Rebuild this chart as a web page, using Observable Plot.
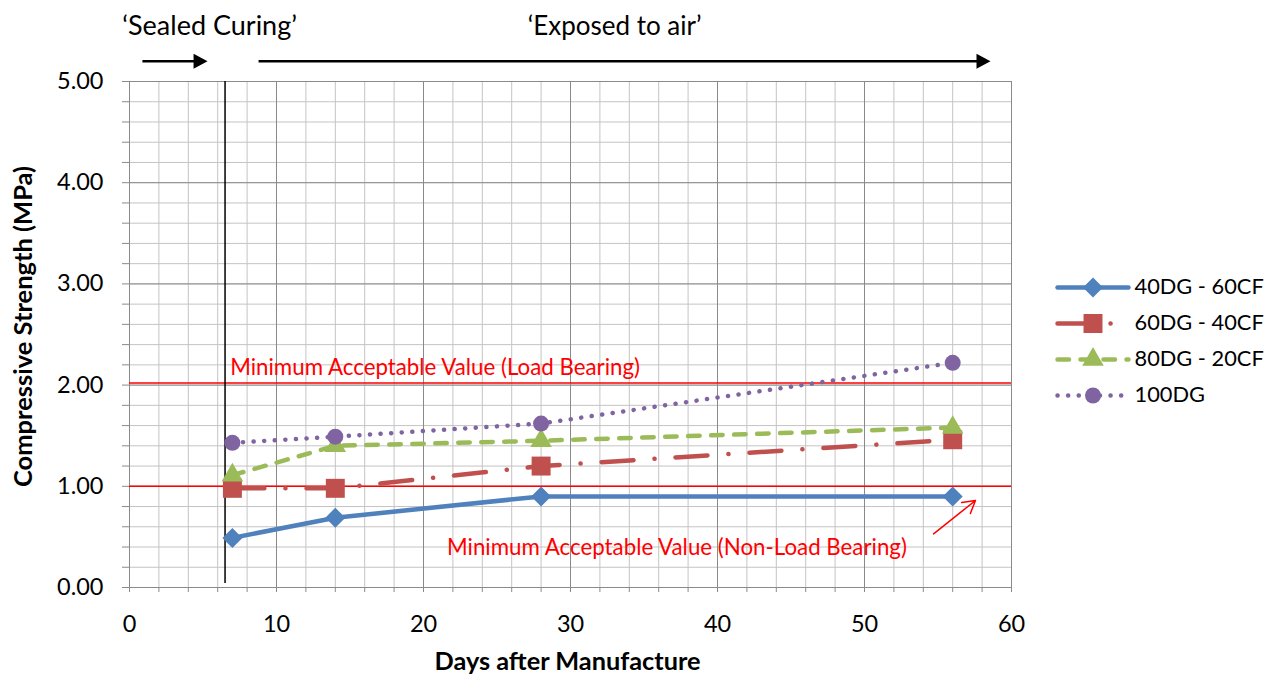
<!DOCTYPE html>
<html><head><meta charset="utf-8">
<script src="https://cdn.jsdelivr.net/npm/d3@7"></script>
<script src="https://cdn.jsdelivr.net/npm/@observablehq/plot@0.6"></script>
<style>
body{margin:0;background:#fff;}
#wrap{position:relative;width:1285px;height:677px;overflow:hidden;}
#chart{position:absolute;left:0;top:0;}
#legend{position:absolute;left:1050px;top:240px;}
</style></head><body><div id="wrap"><div id="chart"></div><div id="legend"></div></div>
<script>
// ---- data ----
const days = [7, 14, 28, 56];
const s40 = [0.49, 0.69, 0.90, 0.90];
const s60 = [0.98, 0.98, 1.20, 1.46];
const s80 = [1.11, 1.40, 1.45, 1.58];
const s100 = [1.43, 1.49, 1.62, 2.22];
const seriesNames = ["40DG - 60CF", "60DG - 40CF", "80DG - 20CF", "100DG"];
const seriesValues = [s40, s60, s80, s100];
const colors = ["#4f81bd", "#c0504d", "#9bbb59", "#8064a2"];
const symbols = ["diamond2", "square", "triangle", "circle"];
const symbolR = [9, 10.7, 8, 8];
const dashes = [null, "32 21 0.1 21", "11.5 11.5", "0.1 10.5"];
const thresholds = [1.0, 2.02];
const thresholdLabels = ["Minimum Acceptable Value (Non-Load Bearing)", "Minimum Acceptable Value (Load Bearing)"];
const xMajor = [0, 10, 20, 30, 40, 50, 60];
const xMinor = d3.range(0, 31).map(i => i * 2);
const yMajor = [0, 1, 2, 3, 4, 5];
const yMinor = d3.range(0, 26).map(i => i / 5);
const phaseLabels = ["\u2018Sealed Curing\u2019", "\u2018Exposed to air\u2019"];

const rows = [];
seriesNames.forEach((s, i) => days.forEach((d, j) => rows.push({series: s, day: d, value: seriesValues[i][j]})));

const FONT = "Lato, 'Open Sans', sans-serif";
const arrowHead = {draw(ctx) { ctx.moveTo(0, 0); ctx.lineTo(-14, -7.5); ctx.lineTo(-14, 7.5); ctx.closePath(); }};

const marks = [
  Plot.gridX(xMinor, {stroke: "#c4c4c4", strokeOpacity: 1}),
  Plot.gridY(yMinor, {stroke: "#c4c4c4", strokeOpacity: 1}),
  Plot.gridX(xMajor, {stroke: "#8a8a8a", strokeOpacity: 1}),
  Plot.gridY(yMajor, {stroke: "#8a8a8a", strokeOpacity: 1}),
  Plot.ruleX([0], {stroke: "#8a8a8a"}),
  Plot.ruleY([0], {stroke: "#8a8a8a"}),
  Plot.axisY(yMinor, {tickSize: 7, stroke: "#8a8a8a", text: null, label: null}),
  Plot.axisY(yMajor, {tickSize: 0, tickPadding: 26, tickFormat: d => d.toFixed(2), label: null, fill: "#000", fontSize: 23.5}),
  Plot.axisX(xMinor, {tickSize: 5, stroke: "#8a8a8a", text: null, label: null}),
  Plot.axisX(xMajor, {tickSize: 0, tickPadding: 28, label: null, fill: "#000", fontSize: 23.5}),
  Plot.ruleY(thresholds, {stroke: "#ff0000", strokeWidth: 1.5}),
  Plot.ruleX([6.5], {y1: 0.04, y2: 5, stroke: "#000", strokeWidth: 1.5}),
];
seriesNames.forEach((s, i) => {
  const data = rows.filter(r => r.series === s);
  marks.push(Plot.line(data, {x: "day", y: "value", stroke: colors[i], strokeWidth: 4.5,
    strokeDasharray: dashes[i], strokeLinecap: "round", strokeLinejoin: "round"}));
  marks.push(Plot.dot(data, {x: "day", y: "value", symbol: () => symbols[i], r: symbolR[i], fill: colors[i], stroke: "none"}));
});
marks.push(
  Plot.text([thresholdLabels[1]], {x: 6.85, y: 2.17, textAnchor: "start", fill: "#ff0000", fontSize: 22.3}),
  Plot.text([thresholdLabels[0]], {x: 21.6, y: 0.395, textAnchor: "start", fill: "#ff0000", fontSize: 22.3}),
  Plot.arrow([0], {x1: 54.7, y1: 0.53, x2: 57.55, y2: 0.86, stroke: "#ff0000", strokeWidth: 1.5, headLength: 14, bend: 0}),
  Plot.text([phaseLabels[0]], {x: 5.45, y: 5.54, fontSize: 27}),
  Plot.text([phaseLabels[1]], {x: 33.0, y: 5.54, fontSize: 26}),
  Plot.link([0], {x1: 0.88, x2: 4.6, y1: 5.2, y2: 5.2, stroke: "#000", strokeWidth: 2.5}),
  Plot.link([0], {x1: 8.78, x2: 58.0, y1: 5.2, y2: 5.2, stroke: "#000", strokeWidth: 2.5}),
  Plot.dot([5.31, 58.57], {x: d => d, y: 5.2, symbol: arrowHead, fill: "#000", stroke: "none"}),
  Plot.text(["Days after Manufacture"], {frameAnchor: "bottom", lineAnchor: "middle", textAnchor: "middle", dx: -3, dy: 74, fontWeight: "bold", fontSize: 25.3}),
  Plot.text(["Compressive Strength (MPa)"], {frameAnchor: "left", textAnchor: "middle", lineAnchor: "middle", dx: -106, dy: -8, rotate: -90, fontWeight: "bold", fontSize: 25.5})
);

const chart = Plot.plot({
  width: 1285, height: 677,
  marginLeft: 129, marginRight: 274, marginTop: 81, marginBottom: 90,
  x: {domain: [0, 60]},
  y: {domain: [0, 5]},
  style: {fontSize: "19px", fontFamily: FONT, background: "#fff", color: "#000", overflow: "visible"},
  marks
});
document.getElementById("chart").appendChild(chart);

// legend
const legRows = seriesNames.map((s, i) => ({series: s, i}));
const legMarks = [];
legRows.forEach(r => {
  legMarks.push(Plot.link([r], {x1: 0, x2: 1, y1: "series", y2: "series", stroke: colors[r.i], strokeWidth: 4.5,
    strokeDasharray: dashes[r.i], strokeLinecap: "round"}));
  legMarks.push(Plot.dot([r], {x: 0.5, y: "series", symbol: () => symbols[r.i], r: symbolR[r.i], fill: colors[r.i], stroke: "none"}));
});
legMarks.push(Plot.text(legRows, {x: 1, y: "series", text: "series", textAnchor: "start", dx: 6, fontSize: 21.8, fill: "#000"}));
const legend = Plot.plot({
  width: 235, height: 200, margin: 0,
  x: {domain: [0, 1], range: [7, 78], axis: null},
  y: {type: "point", domain: seriesNames, range: [28, 173], axis: null},
  style: {fontSize: "19px", fontFamily: FONT, background: "transparent", overflow: "visible"},
  marks: legMarks
});
document.getElementById("legend").appendChild(legend);
</script>
</body></html>
